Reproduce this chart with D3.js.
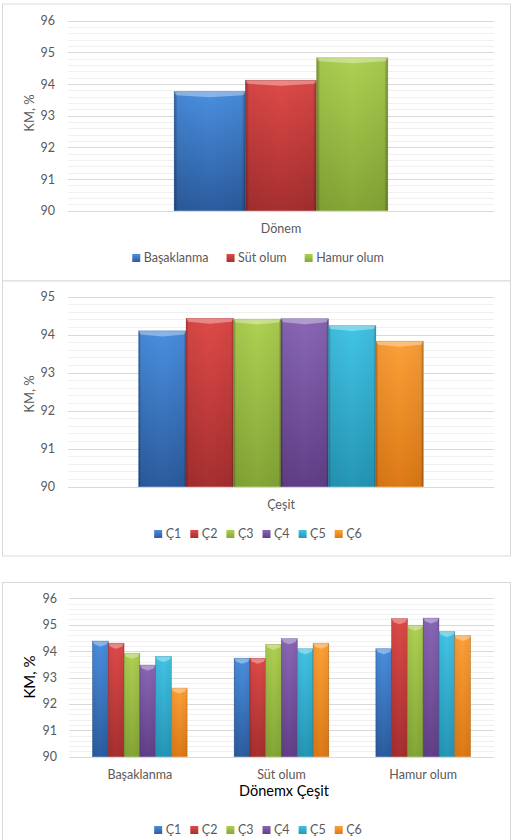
<!DOCTYPE html>
<html>
<head>
<meta charset="utf-8">
<script src="https://cdn.jsdelivr.net/npm/d3@7"></script>
<style>
  html, body { margin: 0; padding: 0; background: #fff; }
  svg { display: block; font-family: Lato, "Open Sans", sans-serif; }
</style>
</head>
<body>
<div id="chart"></div>
<script>
// chart values
const periods = ["Başaklanma", "Süt olum", "Hamur olum"];
const periodMeans = [93.76, 94.12, 94.83];

const cultivars = ["Ç1", "Ç2", "Ç3", "Ç4", "Ç5", "Ç6"];
const cultivarMeans = [94.10, 94.43, 94.41, 94.42, 94.24, 93.83];

const basaklanmaByCultivar = [94.38, 94.30, 93.92, 93.47, 93.80, 92.60];
const sutOlumByCultivar = [93.73, 93.73, 94.26, 94.47, 94.09, 94.30];
const hamurOlumByCultivar = [94.09, 95.23, 94.98, 95.25, 94.74, 94.59];

const yTicks6 = [90, 91, 92, 93, 94, 95, 96];
const yTicks5 = [90, 91, 92, 93, 94, 95];

const width = 515;
const height = 840;

// [top, bottom] colours of each bar series
const palette = [
  ["#4a8fe0", "#2b5c9e"],
  ["#de4a48", "#a62f2f"],
  ["#aed152", "#84a636"],
  ["#8a67b6", "#613f88"],
  ["#42c4e6", "#2596b6"],
  ["#fda038", "#dd7a16"]
];

const svg = d3.select("#chart").append("svg")
  .attr("width", width)
  .attr("height", height);

const defs = svg.append("defs");
palette.forEach((c, i) => {
  const g = defs.append("linearGradient").attr("id", "fill" + i)
    .attr("x1", 0).attr("y1", 0).attr("x2", 0).attr("y2", 1);
  g.append("stop").attr("offset", "0%").attr("stop-color", c[0]);
  g.append("stop").attr("offset", "100%").attr("stop-color", c[1]);
});
const edge = defs.append("linearGradient").attr("id", "edge")
  .attr("x1", 0).attr("y1", 0).attr("x2", 1).attr("y2", 0);
[[0, 0.35], [0.05, 0.05], [0.5, 0], [0.95, 0.05], [1, 0.35]].forEach(([o, a]) => {
  edge.append("stop").attr("offset", o).attr("stop-color", "#000").attr("stop-opacity", a);
});

function drawBar(g, x, y, w, h, ci) {
  g.append("rect").attr("x", x).attr("y", y).attr("width", w).attr("height", h)
    .attr("fill", `url(#fill${ci})`);
  g.append("rect").attr("x", x).attr("y", y).attr("width", w).attr("height", h)
    .attr("fill", "url(#edge)");
  const bh = 3.5;
  g.append("polygon")
    .attr("points", [[x, y], [x + w, y], [x + w - 2, y + bh], [x + w / 2, y + bh + 2], [x + 2, y + bh]].join(" "))
    .attr("fill", "#fff").attr("opacity", 0.35);
  g.append("rect").attr("x", x).attr("y", y).attr("width", w).attr("height", h)
    .attr("fill", "none").attr("stroke", palette[ci][1]).attr("stroke-opacity", 0.6).attr("stroke-width", 0.6);
}

function frame(y0, y1) {
  svg.append("rect").attr("x", 2.5).attr("y", y0).attr("width", 508).attr("height", y1 - y0)
    .attr("fill", "#fff").attr("stroke", "#d9d9d9").attr("stroke-width", 1);
}

function grid(y, x0, x1, ticks) {
  const g = svg.append("g");
  const lo = ticks[0], hi = ticks[ticks.length - 1];
  const minor = d3.range(lo, hi + 1e-6, 0.2);
  g.selectAll("line.minor").data(minor).join("line")
    .attr("x1", x0).attr("x2", x1)
    .attr("y1", d => Math.round(y(d)) + 0.5).attr("y2", d => Math.round(y(d)) + 0.5)
    .attr("stroke", "#f0f0f0");
  g.selectAll("line.major").data(ticks).join("line")
    .attr("x1", x0).attr("x2", x1)
    .attr("y1", d => Math.round(y(d)) + 0.5).attr("y2", d => Math.round(y(d)) + 0.5)
    .attr("stroke", "#d9d9d9");
}

function yLabels(y, xEnd, ticks) {
  const ax = svg.append("g").attr("transform", `translate(${xEnd},0)`)
    .call(d3.axisLeft(y).tickValues(ticks).tickSize(0).tickPadding(0).tickFormat(d3.format("d")));
  ax.select(".domain").remove();
  ax.selectAll("text").attr("fill", "#595959").style("font-size", "12.5px").style("font-family", "Lato, sans-serif");
}

function legend(cy, names, colorIdx, gap) {
  const g = svg.append("g");
  let x = 0;
  names.forEach((n, i) => {
    const it = g.append("g").attr("transform", `translate(${x},0)`);
    it.append("rect").attr("x", 0).attr("y", cy - 4).attr("width", 8).attr("height", 8)
      .attr("fill", `url(#fill${colorIdx[i]})`);
    const t = it.append("text").attr("x", 11.5).attr("y", cy).attr("dy", "0.35em")
      .attr("fill", "#595959").style("font-size", "12.5px").text(n);
    x += 11.5 + t.node().getComputedTextLength() + gap;
  });
  const total = x - gap;
  g.attr("transform", `translate(${258 - total / 2},0)`);
}

function yTitle(text, x, cy, size, color) {
  svg.append("text").attr("transform", `translate(${x},${cy}) rotate(-90)`)
    .attr("text-anchor", "middle").attr("dy", "0.35em")
    .attr("fill", color).style("font-size", size).text(text);
}

// ---------- panel 1: Dönem ----------
frame(4, 281);
{
  const x0 = d3.scaleBand().domain(["Dönem"]).range([68, 494]);
  const x1 = d3.scaleBand().domain(periods).range([0, x0.bandwidth()]).paddingOuter(1.49);
  const y = d3.scaleLinear().domain([90, 96]).range([210.7, 20.7]);
  grid(y, 68, 494, yTicks6);
  yLabels(y, 55, yTicks6);
  const g = svg.append("g");
  periods.forEach((p, i) => {
    drawBar(g, x0("Dönem") + x1(p), y(periodMeans[i]), x1.bandwidth(), y(90) - y(periodMeans[i]), i);
  });
  svg.append("text").attr("x", x0("Dönem") + x0.bandwidth() / 2).attr("y", 229).attr("dy", "0.35em")
    .attr("text-anchor", "middle").attr("fill", "#595959").style("font-size", "12.5px").text("Dönem");
  yTitle("KM, %", 29, 113, "13px", "#595959");
  legend(258, periods, [0, 1, 2], 18);
}

// ---------- panel 2: Çeşit ----------
frame(281, 556);
{
  const x0 = d3.scaleBand().domain(["Çeşit"]).range([68, 494]);
  const x1 = d3.scaleBand().domain(cultivars).range([0, x0.bandwidth()]).paddingOuter(1.49);
  const y = d3.scaleLinear().domain([90, 95]).range([486.7, 296.7]);
  grid(y, 68, 494, yTicks5);
  yLabels(y, 55, yTicks5);
  const g = svg.append("g");
  cultivars.forEach((c, i) => {
    drawBar(g, x0("Çeşit") + x1(c), y(cultivarMeans[i]), x1.bandwidth(), y(90) - y(cultivarMeans[i]), i);
  });
  svg.append("text").attr("x", x0("Çeşit") + x0.bandwidth() / 2).attr("y", 505).attr("dy", "0.35em")
    .attr("text-anchor", "middle").attr("fill", "#595959").style("font-size", "12.5px").text("Çeşit");
  yTitle("KM, %", 29, 394, "13px", "#595959");
  legend(534, cultivars, [0, 1, 2, 3, 4, 5], 9);
}

// ---------- panel 3: Dönem x Çeşit ----------
frame(582.5, 860);
{
  const series = [basaklanmaByCultivar, sutOlumByCultivar, hamurOlumByCultivar];
  const x0 = d3.scaleBand().domain(periods).range([69, 494]);
  const x1 = d3.scaleBand().domain(cultivars).range([0, x0.bandwidth()]).paddingOuter(1.49);
  const y = d3.scaleLinear().domain([90, 96]).range([756.7, 598.3]);
  grid(y, 69, 494, yTicks6);
  yLabels(y, 57, yTicks6);
  const g = svg.append("g");
  periods.forEach((p, pi) => {
    cultivars.forEach((c, ci) => {
      const v = series[pi][ci];
      drawBar(g, x0(p) + x1(c), y(v), x1.bandwidth(), y(90) - y(v), ci);
    });
  });
  svg.append("g").selectAll("text").data(periods).join("text")
    .attr("x", d => x0(d) + x0.bandwidth() / 2).attr("y", 774.5).attr("dy", "0.35em")
    .attr("text-anchor", "middle").attr("fill", "#595959").style("font-size", "12.5px").text(d => d);
  svg.append("text").attr("x", 284).attr("y", 790.5).attr("dy", "0.35em")
    .attr("text-anchor", "middle").attr("fill", "#000").style("font-size", "14.5px").text("Dönemx Çeşit");
  yTitle("KM, %", 30, 677, "15px", "#000");
  legend(830, cultivars, [0, 1, 2, 3, 4, 5], 9);
}
</script>
</body>
</html>
